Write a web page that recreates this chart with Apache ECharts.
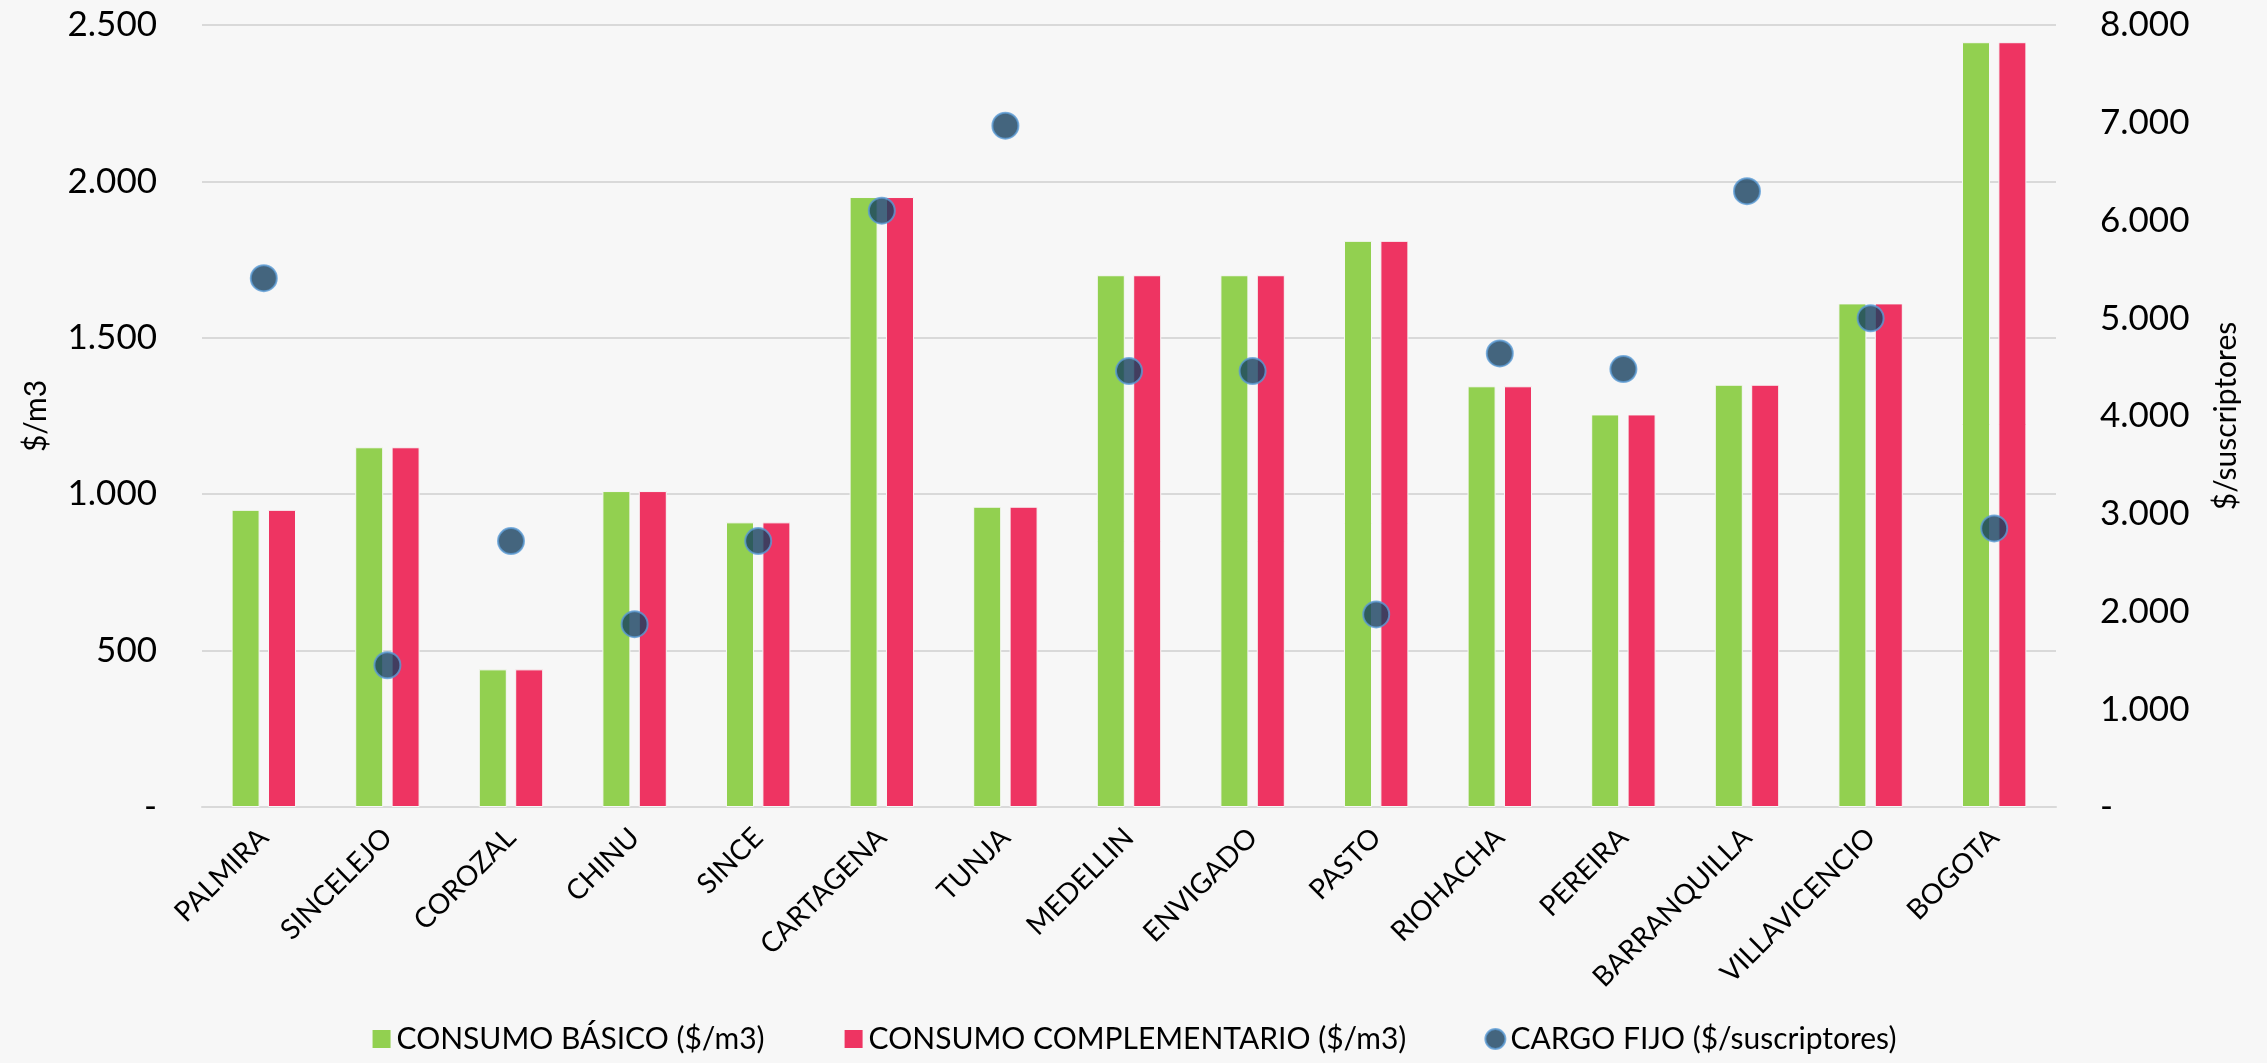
<!DOCTYPE html>
<html><head><meta charset="utf-8">
<script src="https://cdn.jsdelivr.net/npm/echarts@6/dist/echarts.min.js"></script>
<style>html,body{margin:0;padding:0;background:#f7f7f7;}#c{width:2267px;height:1063px;}</style>
</head><body><div id="c"></div>
<script>
const categories = ['PALMIRA','SINCELEJO','COROZAL','CHINU','SINCE','CARTAGENA','TUNJA','MEDELLIN','ENVIGADO','PASTO','RIOHACHA','PEREIRA','BARRANQUILLA','VILLAVICENCIO','BOGOTA'];
const consumoBasico = [950, 1150, 440, 1010, 910, 1950, 960, 1700, 1700, 1810, 1345, 1255, 1350, 1610, 2445];
const consumoComplementario = [950, 1150, 440, 1010, 910, 1950, 960, 1700, 1700, 1810, 1345, 1255, 1350, 1610, 2445];
const cargoFijo = [5410, 1450, 2720, 1870, 2720, 6100, 6970, 4460, 4460, 1970, 4640, 4480, 6300, 5000, 2850];
const seriesNames = ['CONSUMO BÁSICO ($/m3)', 'CONSUMO COMPLEMENTARIO ($/m3)', 'CARGO FIJO ($/suscriptores)'];

const FONT = 'Lato';
function fmt(v){ if (v === 0) return '-'; return String(v).replace(/\B(?=(\d{3})+(?!\d))/g, '.'); }

const chart = echarts.init(document.getElementById('c'), null, {renderer:'canvas'});
chart.setOption({
  backgroundColor: '#f7f7f7',
  animation: false,
  textStyle: {fontFamily: FONT, color: '#000'},
  grid: {left: 202, right: 211, top: 25, bottom: 256, containLabel: false},
  legend: {
    bottom: 4, left: 'center', itemGap: 78, itemWidth: 20, itemHeight: 20,
    textStyle: {fontFamily: FONT, fontSize: 30, color: '#000'},
    data: [
      {name: seriesNames[0], icon: 'rect'},
      {name: seriesNames[1], icon: 'rect'},
      {name: seriesNames[2], icon: 'circle'}
    ]
  },
  xAxis: {
    type: 'category', data: categories,
    axisLine: {lineStyle: {color: '#d9d9d9', width: 2}},
    axisTick: {show: false},
    axisLabel: {rotate: 45, fontSize: 28, color: '#000', margin: 26, fontFamily: FONT, interval: 0}
  },
  yAxis: [
    {type: 'value', min: 0, max: 2500, interval: 500, name: '$/m3', nameLocation: 'middle', nameGap: 151,
     nameTextStyle: {fontSize: 30, color: '#000', fontFamily: FONT},
     axisLabel: {formatter: fmt, fontSize: 35, color: '#000', margin: 45, fontFamily: FONT},
     splitLine: {lineStyle: {color: '#d9d9d9', width: 2}}, axisLine: {show: false}, axisTick: {show: false}},
    {type: 'value', min: 0, max: 8000, interval: 1000, name: '$/suscriptores', nameLocation: 'middle', nameGap: 155,
     nameRotate: 90,
     nameTextStyle: {fontSize: 30, color: '#000', fontFamily: FONT},
     axisLabel: {formatter: fmt, fontSize: 35, color: '#000', margin: 44, fontFamily: FONT},
     splitLine: {show: false}, axisLine: {show: false}, axisTick: {show: false}}
  ],
  series: [
    {name: seriesNames[0], type: 'bar', data: consumoBasico, barWidth: 28, barGap: '30%',
     itemStyle: {color: '#92d050', borderColor: '#f7f7f7', borderWidth: 1}},
    {name: seriesNames[1], type: 'bar', data: consumoComplementario, barWidth: 28,
     itemStyle: {color: '#ee3462', borderColor: '#f7f7f7', borderWidth: 1}},
    {name: seriesNames[2], type: 'scatter', yAxisIndex: 1, data: cargoFijo, symbol: 'circle', symbolSize: 26, z: 5,
     itemStyle: {color: '#17405f', borderColor: '#5b9bd5', borderWidth: 2}}
  ]
});
</script></body></html>
